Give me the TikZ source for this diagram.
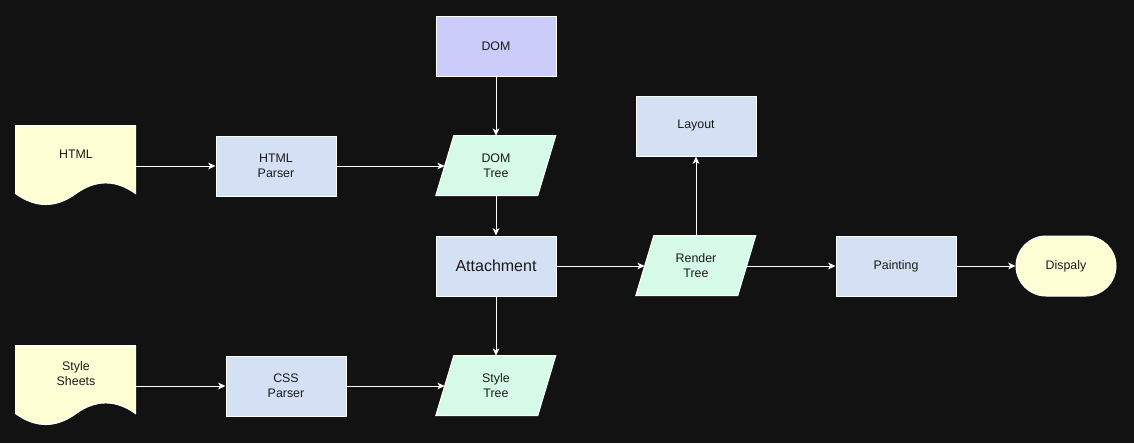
\documentclass[tikz,border=0pt]{standalone}
\usepackage{fontspec}
\setmainfont{Liberation Sans}
\usetikzlibrary{arrows.meta}
\definecolor{bgc}{HTML}{121212}
\definecolor{cblue}{HTML}{D4E1F5}
\definecolor{cpurple}{HTML}{CCCCFA}
\definecolor{cmint}{HTML}{D5FAE8}
\definecolor{cyellow}{HTML}{FFFFD6}
\definecolor{ctext}{HTML}{1A1A1A}
\pgfdeclarelayer{bgl}
\pgfdeclarelayer{shapel}
\pgfsetlayers{bgl,shapel,main}
\begin{document}
\begin{tikzpicture}[x=0.75pt,y=-0.75pt,
  lbl/.style={font=\fontsize{9.3}{11.2}\selectfont, text=ctext, align=center, inner sep=0pt},
  frame/.style={lbl, minimum width=90pt, minimum height=45pt},
  docframe/.style={lbl, minimum width=90pt, minimum height=60pt},
  box/.style={frame, draw=white, line width=0.75pt},
  bluebox/.style={box, fill=cblue},
  shapefill/.style={draw=white, line width=0.75pt},
  conn/.style={draw=white, line width=0.75pt, -{Stealth[length=5.5pt,width=5pt,inset=1.5pt]}}
]
\useasboundingbox (0,0) rectangle (1134,443);
\begin{pgfonlayer}{bgl}
\fill[bgc] (0,0) rectangle (1134,443);
\end{pgfonlayer}

% nodes
\node[box, fill=cpurple] (dom) at (496,46) {DOM};
\node[docframe] (html) at (76,166) {};
\node[lbl] (htmltxt) at (76,154) {HTML};
\node[bluebox] (hparser) at (276,166) {HTML\\Parser};
\node[frame] (domtree) at (496,166) {DOM\\Tree};
\node[bluebox, font=\fontsize{12}{14}\selectfont] (attach) at (496,266) {Attachment};
\node[docframe] (sheets) at (76,386) {};
\node[lbl] (sheetstxt) at (76,374) {Style\\Sheets};
\node[bluebox] (cssparser) at (286,386) {CSS\\Parser};
\node[frame] (styletree) at (496,386) {Style\\Tree};
\node[bluebox] (layout) at (696,126) {Layout};
\node[frame] (render) at (696,266) {Render\\Tree};
\node[bluebox] (paint) at (896,266) {Painting};
\node[box, fill=cyellow, minimum width=75pt, rounded corners=22.5pt] (disp) at (1066,266) {Dispaly};

% shapes behind the labels
\begin{pgfonlayer}{shapel}
\foreach \n in {html,sheets}{
  \begin{scope}[shift={(\n.north west)}]
    \filldraw[shapefill, fill=cyellow] (0,0) -- (120,0) -- (120,68)
      .. controls (100,53.6) and (80,53.6) .. (60,68)
      .. controls (40,82.4) and (20,82.4) .. (0,68) -- cycle;
  \end{scope}
}
\foreach \n in {domtree,styletree,render}{
  \begin{scope}[shift={(\n.north west)}]
    \filldraw[shapefill, fill=cmint] (18,0) -- (120,0) -- (102,60) -- (0,60) -- cycle;
  \end{scope}
}
\end{pgfonlayer}

% connectors
\draw[conn] (dom.south) -- (domtree.north);
\draw[conn] (html.east) -- (hparser.west);
\draw[conn] (hparser.east) -- ([xshift=6.75pt]domtree.west);
\draw[conn] (domtree.south) -- (attach.north);
\draw[conn] (attach.south) -- (styletree.north);
\draw[conn] (sheets.east) -- (cssparser.west);
\draw[conn] (cssparser.east) -- ([xshift=6.75pt]styletree.west);
\draw[conn] (attach.east) -- ([xshift=6.75pt]render.west);
\draw[conn] (render.north) -- (layout.south);
\draw[conn] ([xshift=-6.75pt]render.east) -- (paint.west);
\draw[conn] (paint.east) -- (disp.west);
\end{tikzpicture}
\end{document}
